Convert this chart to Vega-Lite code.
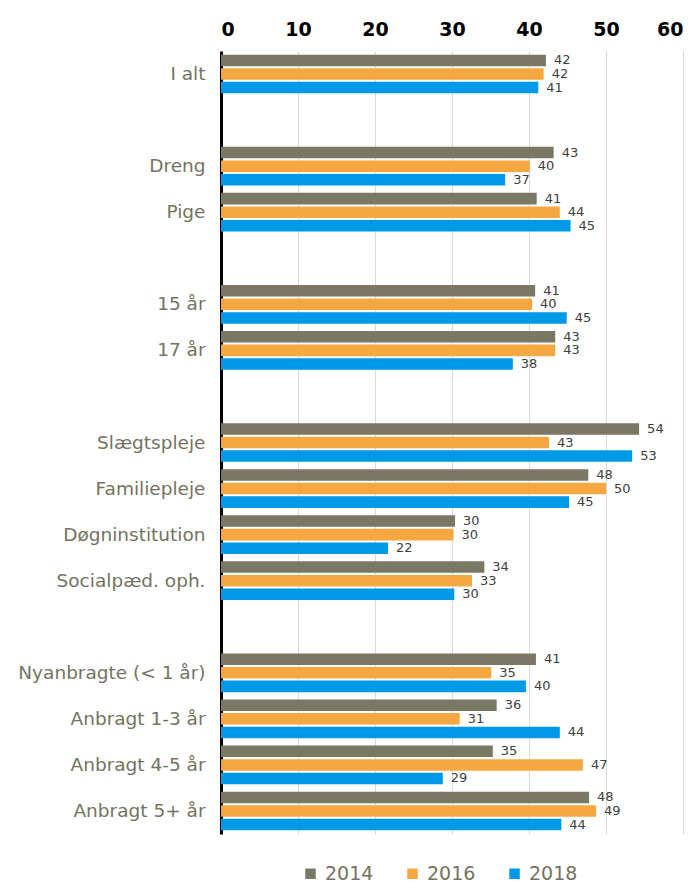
{
  "$schema": "https://vega.github.io/schema/vega-lite/v6.json",
  "width": 462,
  "height": 783,
  "autosize": {"type": "none"},
  "padding": {"left": 221, "top": 51, "right": 15, "bottom": 49},
  "background": "white",
  "config": {
    "view": {"stroke": null},
    "font": "DejaVu Sans"
  },
  "data": {
    "values": [
      {"gruppe": "I alt", "aar": "2014", "pct": 42.2},
      {"gruppe": "I alt", "aar": "2016", "pct": 41.9},
      {"gruppe": "I alt", "aar": "2018", "pct": 41.2},
      {"gruppe": "Dreng", "aar": "2014", "pct": 43.2},
      {"gruppe": "Dreng", "aar": "2016", "pct": 40.1},
      {"gruppe": "Dreng", "aar": "2018", "pct": 36.9},
      {"gruppe": "Pige", "aar": "2014", "pct": 41.0},
      {"gruppe": "Pige", "aar": "2016", "pct": 44.0},
      {"gruppe": "Pige", "aar": "2018", "pct": 45.4},
      {"gruppe": "15 år", "aar": "2014", "pct": 40.8},
      {"gruppe": "15 år", "aar": "2016", "pct": 40.4},
      {"gruppe": "15 år", "aar": "2018", "pct": 44.9},
      {"gruppe": "17 år", "aar": "2014", "pct": 43.4},
      {"gruppe": "17 år", "aar": "2016", "pct": 43.4},
      {"gruppe": "17 år", "aar": "2018", "pct": 37.9},
      {"gruppe": "Slægtspleje", "aar": "2014", "pct": 54.3},
      {"gruppe": "Slægtspleje", "aar": "2016", "pct": 42.6},
      {"gruppe": "Slægtspleje", "aar": "2018", "pct": 53.4},
      {"gruppe": "Familiepleje", "aar": "2014", "pct": 47.7},
      {"gruppe": "Familiepleje", "aar": "2016", "pct": 50.0},
      {"gruppe": "Familiepleje", "aar": "2018", "pct": 45.2},
      {"gruppe": "Døgninstitution", "aar": "2014", "pct": 30.4},
      {"gruppe": "Døgninstitution", "aar": "2016", "pct": 30.2},
      {"gruppe": "Døgninstitution", "aar": "2018", "pct": 21.7},
      {"gruppe": "Socialpæd. oph.", "aar": "2014", "pct": 34.2},
      {"gruppe": "Socialpæd. oph.", "aar": "2016", "pct": 32.6},
      {"gruppe": "Socialpæd. oph.", "aar": "2018", "pct": 30.3},
      {"gruppe": "Nyanbragte (< 1 år)", "aar": "2014", "pct": 40.9},
      {"gruppe": "Nyanbragte (< 1 år)", "aar": "2016", "pct": 35.1},
      {"gruppe": "Nyanbragte (< 1 år)", "aar": "2018", "pct": 39.6},
      {"gruppe": "Anbragt 1-3 år", "aar": "2014", "pct": 35.8},
      {"gruppe": "Anbragt 1-3 år", "aar": "2016", "pct": 31.0},
      {"gruppe": "Anbragt 1-3 år", "aar": "2018", "pct": 44.0},
      {"gruppe": "Anbragt 4-5 år", "aar": "2014", "pct": 35.3},
      {"gruppe": "Anbragt 4-5 år", "aar": "2016", "pct": 47.0},
      {"gruppe": "Anbragt 4-5 år", "aar": "2018", "pct": 28.8},
      {"gruppe": "Anbragt 5+ år", "aar": "2014", "pct": 47.8},
      {"gruppe": "Anbragt 5+ år", "aar": "2016", "pct": 48.7},
      {"gruppe": "Anbragt 5+ år", "aar": "2018", "pct": 44.2}
    ]
  },
  "encoding": {
    "y": {
      "field": "gruppe",
      "type": "nominal",
      "scale": {
        "domain": ["I alt", " ", "Dreng", "Pige", "  ", "15 år", "17 år", "   ", "Slægtspleje", "Familiepleje", "Døgninstitution", "Socialpæd. oph.", "    ", "Nyanbragte (< 1 år)", "Anbragt 1-3 år", "Anbragt 4-5 år", "Anbragt 5+ år"],
        "paddingInner": 0.16,
        "paddingOuter": 0.08
      },
      "axis": {
        "title": null,
        "domainColor": "#000000",
        "domainWidth": 3,
        "ticks": false,
        "labelFontSize": 18.5,
        "labelColor": "#73735f",
        "labelPadding": 16,
        "labelLimit": 260,
        "labelFont": "DejaVu Sans"
      }
    },
    "yOffset": {
      "field": "aar",
      "type": "nominal",
      "scale": {"paddingInner": 0.15}
    },
    "x": {
      "field": "pct",
      "type": "quantitative",
      "scale": {"domain": [0, 60], "nice": false},
      "axis": {
        "orient": "top",
        "title": null,
        "values": [0, 10, 20, 30, 40, 50, 60],
        "domain": false,
        "ticks": false,
        "grid": true,
        "gridColor": "#d9d9d9",
        "gridWidth": 1,
        "labelFontSize": 19,
        "labelFontWeight": "bold",
        "labelColor": "#000000",
        "labelPadding": 12,
        "labelFont": "DejaVu Sans"
      }
    }
  },
  "layer": [
    {
      "mark": {"type": "bar"},
      "encoding": {
        "color": {
          "field": "aar",
          "type": "nominal",
          "scale": {"domain": ["2014", "2016", "2018"], "range": ["#7a7764", "#f5a742", "#0099e8"]},
          "legend": {
            "title": null,
            "orient": "none",
            "direction": "horizontal",
            "legendX": 80,
            "legendY": 813,
            "symbolType": "square",
            "symbolSize": 110,
            "symbolStrokeWidth": 0,
            "labelFontSize": 19,
            "labelColor": "#73735f",
            "labelOffset": 5,
            "columnPadding": 29,
            "labelFont": "DejaVu Sans"
          }
        }
      }
    },
    {
      "mark": {"type": "text", "align": "left", "baseline": "middle", "dx": 8, "fontSize": 13, "color": "#404040"},
      "encoding": {
        "text": {"field": "pct", "type": "quantitative", "format": ".0f"}
      }
    }
  ]
}
